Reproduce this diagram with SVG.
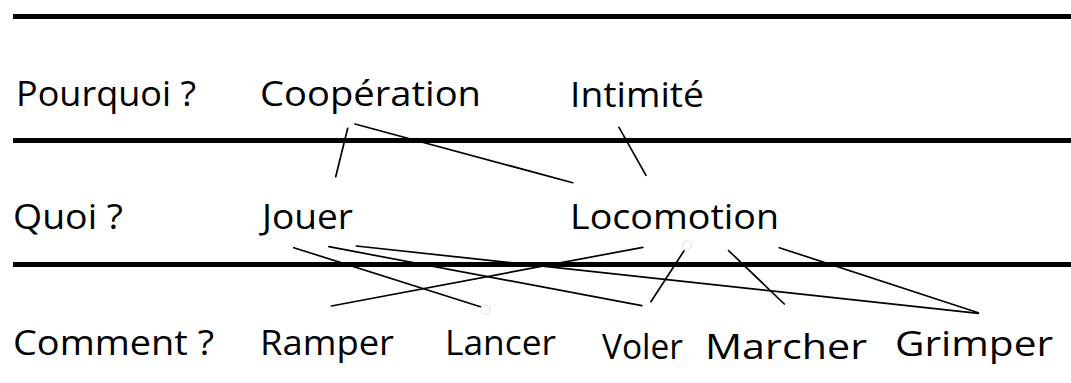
<svg xmlns="http://www.w3.org/2000/svg" width="1071" height="383" viewBox="0 0 1071 383">
<style>
.t{font-family:"Open Sans","Lato","Liberation Sans",sans-serif;font-size:35.5px;fill:#000}
.band{stroke:#000;stroke-width:5;fill:none}
.c{stroke:#000;stroke-width:1.7;fill:none;stroke-linecap:round}
.h{stroke:#e2e2e2;stroke-width:1.2;fill:#fff}
</style>
<rect width="1071" height="383" fill="#fff"/>
<g id="bands">
<line class="band" x1="13" y1="16.5" x2="1071" y2="16.5"/>
<line class="band" x1="13" y1="140.5" x2="1071" y2="140.5"/>
<line class="band" x1="13" y1="264.5" x2="1071" y2="264.5"/>
</g>
<g id="connectors">
<line class="c" x1="347.7" y1="128.3" x2="335.7" y2="176.7"/>
<line class="c" x1="355" y1="124" x2="572.7" y2="182.7"/>
<line class="c" x1="619" y1="127.3" x2="646" y2="175.3"/>
<line class="c" x1="293.8" y1="247.7" x2="480.4" y2="306.7"/>
<line class="c" x1="328.9" y1="246.7" x2="641.8" y2="305.7"/>
<line class="c" x1="356.3" y1="246" x2="978.3" y2="313.3"/>
<line class="c" x1="642.8" y1="247.3" x2="331.4" y2="306"/>
<line class="c" x1="683.9" y1="251" x2="650.9" y2="301.7"/>
<line class="c" x1="728.5" y1="250.5" x2="784.3" y2="304"/>
<line class="c" x1="779.3" y1="247.7" x2="978.3" y2="312.7"/>
<circle class="h" cx="485.5" cy="309.5" r="4.5"/>
<circle class="h" cx="687" cy="245.5" r="4.5"/>
</g>
<g id="row-pourquoi"><text class="t" x="16" y="106" textLength="180" lengthAdjust="spacingAndGlyphs">Pourquoi ?</text></g>
<g id="node-cooperation"><text class="t" x="260" y="106" textLength="221" lengthAdjust="spacingAndGlyphs">Coopération</text></g>
<g id="node-intimite"><text class="t" x="570" y="107" textLength="134" lengthAdjust="spacingAndGlyphs">Intimité</text></g>
<g id="row-quoi"><text class="t" x="13" y="229" textLength="110" lengthAdjust="spacingAndGlyphs">Quoi ?</text></g>
<g id="node-jouer"><text class="t" x="262" y="229" textLength="91" lengthAdjust="spacingAndGlyphs">Jouer</text></g>
<g id="node-locomotion"><text class="t" x="570" y="229" textLength="209" lengthAdjust="spacingAndGlyphs">Locomotion</text></g>
<g id="row-comment"><text class="t" x="13" y="355" textLength="201" lengthAdjust="spacingAndGlyphs">Comment ?</text></g>
<g id="node-ramper"><text class="t" x="260" y="355" textLength="134" lengthAdjust="spacingAndGlyphs">Ramper</text></g>
<g id="node-lancer"><text class="t" x="445" y="355" textLength="111" lengthAdjust="spacingAndGlyphs">Lancer</text></g>
<g id="node-voler"><text class="t" x="602" y="359" textLength="81" lengthAdjust="spacingAndGlyphs">Voler</text></g>
<g id="node-marcher"><text class="t" x="705" y="359" textLength="162" lengthAdjust="spacingAndGlyphs">Marcher</text></g>
<g id="node-grimper"><text class="t" x="895" y="356" textLength="158" lengthAdjust="spacingAndGlyphs">Grimper</text></g>
</svg>
